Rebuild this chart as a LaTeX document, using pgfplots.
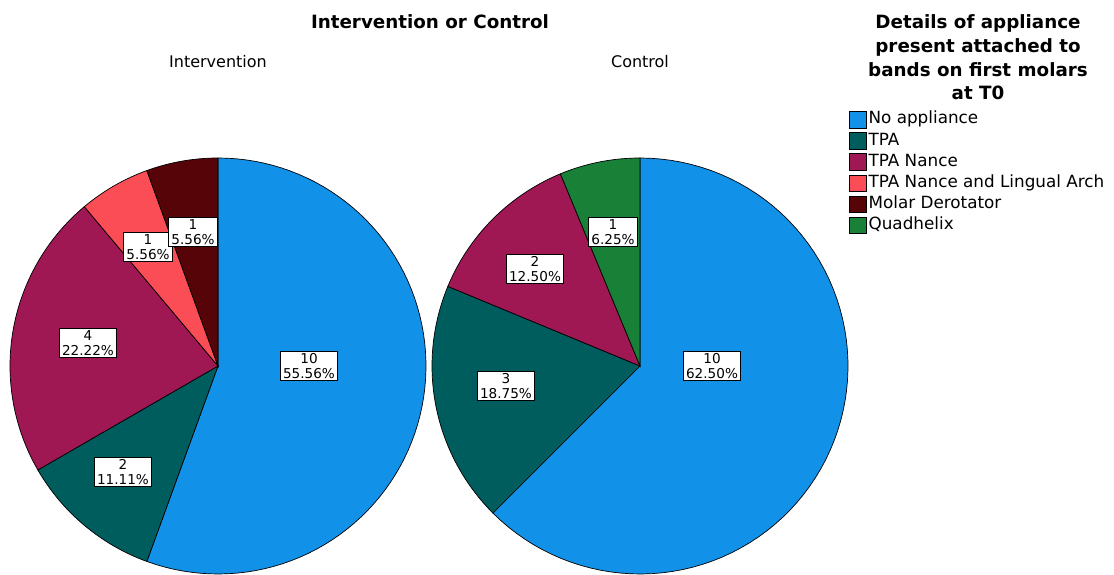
\documentclass[border=0pt]{standalone}
\usepackage{pgfplots}
\pgfplotsset{compat=1.18}
\usepackage{fontspec}
\setmainfont{DejaVu Sans}
\definecolor{cblue}{HTML}{1192E8}
\definecolor{cteal}{HTML}{005D5D}
\definecolor{cmag}{HTML}{9F1853}
\definecolor{cred}{HTML}{FA4D56}
\definecolor{cdark}{HTML}{570408}
\definecolor{cgreen}{HTML}{198038}
% slice: cx, cy, cumulative before, count, total, colour
\newcommand{\pieslice}[6]{%
  \addplot[forget plot, draw=black, line width=0.7pt, fill=#6, domain={90-360*(#3+#4)/#5}:{90-360*(#3)/#5}, samples=80, variable=\t]
    ({#1+208*cos(\t)},{#2+208*sin(\t)}) -- (axis cs:#1,#2) -- cycle;}
\tikzset{lab/.style={draw=black, line width=0.7pt, fill=white, align=center, inner xsep=2.6pt, inner ysep=2pt,
  font=\fontsize{13.6}{14.8}\selectfont}}
\begin{document}
\begin{tikzpicture}
\path[use as bounding box] (0,0) rectangle (1114pt,575pt);
\begin{axis}[at={(0,0)}, anchor=south west, width=1114pt, height=575pt, scale only axis,
  xmin=0, xmax=1114, ymin=0, ymax=575, hide axis, clip=false,
  legend style={at={(axis cs:849,466)}, anchor=north west, draw=none, fill=none,
    font=\fontsize{16.8}{19}\selectfont, row sep=0pt, inner sep=0pt,
    nodes={text height=12.5pt, text depth=4pt, inner sep=2.3pt}},
  legend cell align=left,
  legend image code/.code={\draw[#1] (0pt,-8.2pt) rectangle (16.5pt,8.2pt);}]
% Intervention (n = 18)
\pieslice{218}{209}{0}{10}{18}{cblue}
\pieslice{218}{209}{10}{2}{18}{cteal}
\pieslice{218}{209}{12}{4}{18}{cmag}
\pieslice{218}{209}{16}{1}{18}{cred}
\pieslice{218}{209}{17}{1}{18}{cdark}
% Control (n = 16)
\pieslice{640}{209}{0}{10}{16}{cblue}
\pieslice{640}{209}{10}{3}{16}{cteal}
\pieslice{640}{209}{13}{2}{16}{cmag}
\pieslice{640}{209}{15}{1}{16}{cgreen}
\addlegendimage{fill=cblue, draw=black, line width=0.6pt}
\addlegendentry{No appliance}
\addlegendimage{fill=cteal, draw=black, line width=0.6pt}
\addlegendentry{TPA}
\addlegendimage{fill=cmag, draw=black, line width=0.6pt}
\addlegendentry{TPA Nance}
\addlegendimage{fill=cred, draw=black, line width=0.6pt}
\addlegendentry{TPA Nance and Lingual Arch}
\addlegendimage{fill=cdark, draw=black, line width=0.6pt}
\addlegendentry{Molar Derotator}
\addlegendimage{fill=cgreen, draw=black, line width=0.6pt}
\addlegendentry{Quadhelix}
% labels
\node[lab] at (axis cs:309,209) {10\\55.56\%};
\node[lab] at (axis cs:123,103) {2\\11.11\%};
\node[lab] at (axis cs:88,232) {4\\22.22\%};
\node[lab] at (axis cs:148,328) {1\\5.56\%};
\node[lab] at (axis cs:193,343) {1\\5.56\%};
\node[lab] at (axis cs:712,209) {10\\62.50\%};
\node[lab] at (axis cs:506,189) {3\\18.75\%};
\node[lab] at (axis cs:535,306) {2\\12.50\%};
\node[lab] at (axis cs:613,343) {1\\6.25\%};
% titles
\node[font=\bfseries\fontsize{18.3}{20}\selectfont] at (axis cs:430,553) {Intervention or Control};
\node[font=\fontsize{16}{18}\selectfont] at (axis cs:218,513) {Intervention};
\node[font=\fontsize{16}{18}\selectfont] at (axis cs:640,513) {Control};
\node[font=\bfseries\fontsize{18.3}{23.7}\selectfont, align=center] at (axis cs:978,517.5)
  {Details of appliance\\present attached to\\bands on first molars\\at T0};
\end{axis}
\end{tikzpicture}
\end{document}
